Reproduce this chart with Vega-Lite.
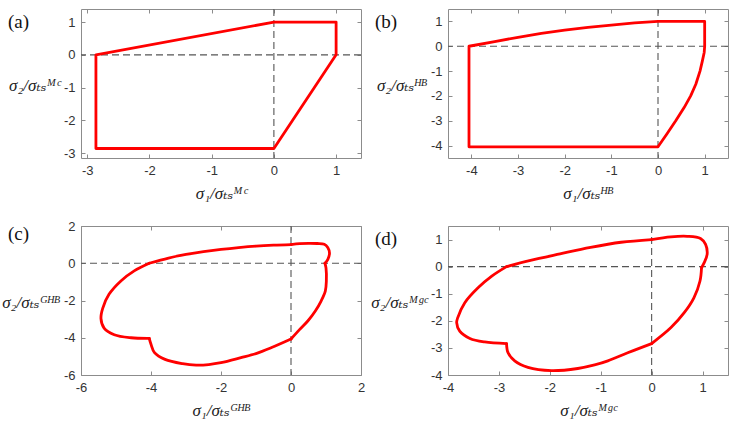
{
  "$schema": "https://vega.github.io/schema/vega-lite/v6.json",
  "background": "white",
  "padding": {"left": 1, "top": 8, "right": 6, "bottom": 4},
  "datasets": {
    "a": [
      {"s1": 0, "s2": 1}, {"s1": 1, "s2": 1}, {"s1": 1, "s2": 0}, {"s1": 0, "s2": -2.86},
      {"s1": -2.86, "s2": -2.86}, {"s1": -2.86, "s2": 0}, {"s1": 0, "s2": 1}
    ],
    "b": [
      {"s1": 0, "s2": 1}, {"s1": 1, "s2": 1}, {"s1": 1, "s2": 0.1}, {"s1": 1, "s2": 0},
      {"s1": 0.99, "s2": -0.25}, {"s1": 0.95, "s2": -0.6}, {"s1": 0.9, "s2": -1},
      {"s1": 0.81, "s2": -1.53}, {"s1": 0.7, "s2": -2}, {"s1": 0.56, "s2": -2.47},
      {"s1": 0.38, "s2": -3}, {"s1": 0.19, "s2": -3.53}, {"s1": 0, "s2": -4.05},
      {"s1": -4.05, "s2": -4.05}, {"s1": -4.05, "s2": 0}, {"s1": -3.5, "s2": 0.19},
      {"s1": -3, "s2": 0.36}, {"s1": -2.5, "s2": 0.52}, {"s1": -2, "s2": 0.65},
      {"s1": -1.5, "s2": 0.76}, {"s1": -1, "s2": 0.85}, {"s1": -0.5, "s2": 0.94}, {"s1": 0, "s2": 1}
    ],
    "c": [
      {"seg": "A", "s1": 0, "s2": 1.0}, {"seg": "A", "s1": 0.25, "s2": 1.05}, {"seg": "A", "s1": 0.5, "s2": 1.07},
      {"seg": "A", "s1": 0.75, "s2": 1.06}, {"seg": "A", "s1": 0.95, "s2": 1.02}, {"seg": "A", "s1": 1.05, "s2": 0.85},
      {"seg": "A", "s1": 1.1, "s2": 0.55}, {"seg": "A", "s1": 1.05, "s2": 0.2}, {"seg": "A", "s1": 0.97, "s2": 0.0},
      {"seg": "B", "s1": 0.97, "s2": 0.0}, {"seg": "B", "s1": 1.0, "s2": -0.25}, {"seg": "B", "s1": 1.01, "s2": -0.95},
      {"seg": "B", "s1": 0.98, "s2": -1.5}, {"seg": "B", "s1": 0.86, "s2": -2.03}, {"seg": "B", "s1": 0.7, "s2": -2.55},
      {"seg": "B", "s1": 0.48, "s2": -3.1}, {"seg": "B", "s1": 0.25, "s2": -3.55}, {"seg": "B", "s1": 0.0, "s2": -4.07},
      {"seg": "C", "s1": 0.0, "s2": -4.07}, {"seg": "C", "s1": -0.57, "s2": -4.54}, {"seg": "C", "s1": -1.0, "s2": -4.85},
      {"seg": "C", "s1": -1.43, "s2": -5.07}, {"seg": "C", "s1": -2.0, "s2": -5.34}, {"seg": "C", "s1": -2.35, "s2": -5.44},
      {"seg": "C", "s1": -2.71, "s2": -5.47}, {"seg": "C", "s1": -3.1, "s2": -5.39}, {"seg": "C", "s1": -3.6, "s2": -5.16},
      {"seg": "C", "s1": -3.9, "s2": -4.8}, {"seg": "C", "s1": -4.0, "s2": -4.35}, {"seg": "C", "s1": -4.05, "s2": -4.03},
      {"seg": "D", "s1": -4.05, "s2": -4.03}, {"seg": "D", "s1": -4.57, "s2": -4.0}, {"seg": "D", "s1": -5.05, "s2": -3.84},
      {"seg": "D", "s1": -5.34, "s2": -3.48}, {"seg": "D", "s1": -5.43, "s2": -2.96}, {"seg": "D", "s1": -5.38, "s2": -2.42},
      {"seg": "D", "s1": -5.2, "s2": -1.67}, {"seg": "D", "s1": -4.86, "s2": -0.95}, {"seg": "D", "s1": -4.48, "s2": -0.41},
      {"seg": "D", "s1": -4.05, "s2": 0},
      {"seg": "E", "s1": -4.05, "s2": 0}, {"seg": "E", "s1": -3.5, "s2": 0.28}, {"seg": "E", "s1": -3.0, "s2": 0.47},
      {"seg": "E", "s1": -2.5, "s2": 0.62}, {"seg": "E", "s1": -2.0, "s2": 0.74}, {"seg": "E", "s1": -1.5, "s2": 0.84},
      {"seg": "E", "s1": -1.0, "s2": 0.92}, {"seg": "E", "s1": -0.5, "s2": 0.97}, {"seg": "E", "s1": 0, "s2": 1.0}
    ],
    "d": [
      {"seg": "A", "s1": 0, "s2": 1.0}, {"seg": "A", "s1": 0.38, "s2": 1.1}, {"seg": "A", "s1": 0.7, "s2": 1.12},
      {"seg": "A", "s1": 0.96, "s2": 1.04}, {"seg": "A", "s1": 1.06, "s2": 0.82}, {"seg": "A", "s1": 1.09, "s2": 0.45},
      {"seg": "A", "s1": 1.03, "s2": 0.14}, {"seg": "A", "s1": 0.98, "s2": -0.04},
      {"seg": "B", "s1": 0.98, "s2": -0.04}, {"seg": "B", "s1": 0.95, "s2": -0.53}, {"seg": "B", "s1": 0.83, "s2": -1.15},
      {"seg": "B", "s1": 0.64, "s2": -1.7}, {"seg": "B", "s1": 0.38, "s2": -2.25}, {"seg": "B", "s1": 0, "s2": -2.84},
      {"seg": "C", "s1": 0, "s2": -2.84}, {"seg": "C", "s1": -0.47, "s2": -3.18}, {"seg": "C", "s1": -0.86, "s2": -3.48},
      {"seg": "C", "s1": -1.12, "s2": -3.63}, {"seg": "C", "s1": -1.45, "s2": -3.76}, {"seg": "C", "s1": -1.97, "s2": -3.84},
      {"seg": "C", "s1": -2.43, "s2": -3.72}, {"seg": "C", "s1": -2.69, "s2": -3.48}, {"seg": "C", "s1": -2.82, "s2": -3.18},
      {"seg": "C", "s1": -2.85, "s2": -2.84},
      {"seg": "D", "s1": -2.85, "s2": -2.84}, {"seg": "D", "s1": -3.28, "s2": -2.78}, {"seg": "D", "s1": -3.57, "s2": -2.65},
      {"seg": "D", "s1": -3.77, "s2": -2.38}, {"seg": "D", "s1": -3.83, "s2": -2.07}, {"seg": "D", "s1": -3.81, "s2": -1.89},
      {"seg": "D", "s1": -3.67, "s2": -1.33}, {"seg": "D", "s1": -3.41, "s2": -0.78}, {"seg": "D", "s1": -3.14, "s2": -0.35},
      {"seg": "D", "s1": -2.85, "s2": 0},
      {"seg": "E", "s1": -2.85, "s2": 0}, {"seg": "E", "s1": -2.4, "s2": 0.22}, {"seg": "E", "s1": -1.8, "s2": 0.47},
      {"seg": "E", "s1": -1.2, "s2": 0.71}, {"seg": "E", "s1": -0.6, "s2": 0.9}, {"seg": "E", "s1": 0, "s2": 1.0}
    ]
  },
  "concat": [
    {
      "width": 280, "height": 149,
      "title": {"text": "(a)"},
      "layer": [
        {"data": {"values": [{}]}, "mark": {"type": "rule", "color": "#555555", "strokeWidth": 1.1, "strokeDash": [7, 4]},
         "encoding": {"x": {"datum": 0, "type": "quantitative", "scale": {"domain": [-3.1, 1.4], "nice": false, "zero": false},
           "axis": {"orient": "top", "labels": false, "title": null, "values": [-3, -2, -1, 0, 1]}}}},
        {"data": {"values": [{}]}, "mark": {"type": "rule", "color": "#555555", "strokeWidth": 1.1, "strokeDash": [7, 4]},
         "encoding": {"y": {"datum": 0, "type": "quantitative", "scale": {"domain": [-3.15, 1.4], "nice": false, "zero": false},
           "axis": {"orient": "right", "labels": false, "title": null, "values": [-3, -2, -1, 0, 1]}}}},
        {"data": {"name": "a"}, "mark": {"type": "line", "color": "#ff0000", "strokeWidth": 2.8, "strokeJoin": "round", "strokeCap": "round"},
         "encoding": {
           "x": {"field": "s1", "type": "quantitative", "scale": {"domain": [-3.1, 1.4], "nice": false, "zero": false},
             "axis": {"orient": "bottom", "values": [-3, -2, -1, 0, 1], "title": "σ₁/σₜₛᴹᶜ"}},
           "y": {"field": "s2", "type": "quantitative", "scale": {"domain": [-3.15, 1.4], "nice": false, "zero": false},
             "axis": {"orient": "left", "values": [-3, -2, -1, 0, 1], "title": "σ₂/σₜₛᴹᶜ"}},
           "order": {"value": null}}}
      ],
      "resolve": {"axis": {"x": "independent", "y": "independent"}}
    },
    {
      "width": 280, "height": 149,
      "title": {"text": "(b)"},
      "layer": [
        {"data": {"values": [{}]}, "mark": {"type": "rule", "color": "#555555", "strokeWidth": 1.1, "strokeDash": [7, 4]},
         "encoding": {"x": {"datum": 0, "type": "quantitative", "scale": {"domain": [-4.5, 1.5], "nice": false, "zero": false},
           "axis": {"orient": "top", "labels": false, "title": null, "values": [-4, -3, -2, -1, 0, 1]}}}},
        {"data": {"values": [{}]}, "mark": {"type": "rule", "color": "#555555", "strokeWidth": 1.1, "strokeDash": [7, 4]},
         "encoding": {"y": {"datum": 0, "type": "quantitative", "scale": {"domain": [-4.5, 1.5], "nice": false, "zero": false},
           "axis": {"orient": "right", "labels": false, "title": null, "values": [-4, -3, -2, -1, 0, 1]}}}},
        {"data": {"name": "b"}, "mark": {"type": "line", "color": "#ff0000", "strokeWidth": 2.8, "strokeJoin": "round", "strokeCap": "round"},
         "encoding": {
           "x": {"field": "s1", "type": "quantitative", "scale": {"domain": [-4.5, 1.5], "nice": false, "zero": false},
             "axis": {"orient": "bottom", "values": [-4, -3, -2, -1, 0, 1], "title": "σ₁/σₜₛᴴᴮ"}},
           "y": {"field": "s2", "type": "quantitative", "scale": {"domain": [-4.5, 1.5], "nice": false, "zero": false},
             "axis": {"orient": "left", "values": [-4, -3, -2, -1, 0, 1], "title": "σ₂/σₜₛᴴᴮ"}},
           "order": {"value": null}}}
      ],
      "resolve": {"axis": {"x": "independent", "y": "independent"}}
    },
    {
      "width": 280, "height": 149,
      "title": {"text": "(c)"},
      "layer": [
        {"data": {"values": [{}]}, "mark": {"type": "rule", "color": "#555555", "strokeWidth": 1.1, "strokeDash": [7, 4]},
         "encoding": {"x": {"datum": 0, "type": "quantitative", "scale": {"domain": [-6, 2], "nice": false, "zero": false},
           "axis": {"orient": "top", "labels": false, "title": null, "values": [-6, -4, -2, 0, 2]}}}},
        {"data": {"values": [{}]}, "mark": {"type": "rule", "color": "#555555", "strokeWidth": 1.1, "strokeDash": [7, 4]},
         "encoding": {"y": {"datum": 0, "type": "quantitative", "scale": {"domain": [-6, 2], "nice": false, "zero": false},
           "axis": {"orient": "right", "labels": false, "title": null, "values": [-6, -4, -2, 0, 2]}}}},
        {"data": {"name": "c"}, "mark": {"type": "line", "color": "#ff0000", "strokeWidth": 2.8, "strokeJoin": "round", "strokeCap": "round", "interpolate": "catmull-rom"},
         "encoding": {
           "x": {"field": "s1", "type": "quantitative", "scale": {"domain": [-6, 2], "nice": false, "zero": false},
             "axis": {"orient": "bottom", "values": [-6, -4, -2, 0, 2], "title": "σ₁/σₜₛᴳᴴᴮ"}},
           "y": {"field": "s2", "type": "quantitative", "scale": {"domain": [-6, 2], "nice": false, "zero": false},
             "axis": {"orient": "left", "values": [-6, -4, -2, 0, 2], "title": "σ₂/σₜₛᴳᴴᴮ"}},
           "detail": {"field": "seg", "type": "nominal"},
           "order": {"value": null}}}
      ],
      "resolve": {"axis": {"x": "independent", "y": "independent"}}
    },
    {
      "width": 280, "height": 149,
      "title": {"text": "(d)"},
      "layer": [
        {"data": {"values": [{}]}, "mark": {"type": "rule", "color": "#555555", "strokeWidth": 1.1, "strokeDash": [7, 4]},
         "encoding": {"x": {"datum": 0, "type": "quantitative", "scale": {"domain": [-4, 1.5], "nice": false, "zero": false},
           "axis": {"orient": "top", "labels": false, "title": null, "values": [-4, -3, -2, -1, 0, 1]}}}},
        {"data": {"values": [{}]}, "mark": {"type": "rule", "color": "#555555", "strokeWidth": 1.1, "strokeDash": [7, 4]},
         "encoding": {"y": {"datum": 0, "type": "quantitative", "scale": {"domain": [-4, 1.5], "nice": false, "zero": false},
           "axis": {"orient": "right", "labels": false, "title": null, "values": [-4, -3, -2, -1, 0, 1]}}}},
        {"data": {"name": "d"}, "mark": {"type": "line", "color": "#ff0000", "strokeWidth": 2.8, "strokeJoin": "round", "strokeCap": "round", "interpolate": "catmull-rom"},
         "encoding": {
           "x": {"field": "s1", "type": "quantitative", "scale": {"domain": [-4, 1.5], "nice": false, "zero": false},
             "axis": {"orient": "bottom", "values": [-4, -3, -2, -1, 0, 1], "title": "σ₁/σₜₛᴹᵍᶜ"}},
           "y": {"field": "s2", "type": "quantitative", "scale": {"domain": [-4, 1.5], "nice": false, "zero": false},
             "axis": {"orient": "left", "values": [-4, -3, -2, -1, 0, 1], "title": "σ₂/σₜₛᴹᵍᶜ"}},
           "detail": {"field": "seg", "type": "nominal"},
           "order": {"value": null}}}
      ],
      "resolve": {"axis": {"x": "independent", "y": "independent"}}
    }
  ],
  "columns": 2,
  "spacing": {"row": 68, "column": 87},
  "bounds": "flush",
  "config": {
    "view": {"stroke": null},
    "font": "Liberation Sans",
    "title": {
      "font": "Liberation Serif", "fontSize": 19, "fontWeight": "normal", "color": "#111111",
      "anchor": "start", "frame": "group", "orient": "top", "align": "left",
      "baseline": "alphabetic", "offset": 0, "dx": -73, "dy": 28
    },
    "axis": {
      "grid": false,
      "domainColor": "#8c8c8c", "domainWidth": 1,
      "tickColor": "#8c8c8c", "tickSize": -4, "tickWidth": 1,
      "labelFont": "Liberation Sans", "labelFontSize": 13, "labelColor": "#333333",
      "labelPadding": 10, "labelFlush": false, "labelOverlap": false, "labelBound": false,
      "labelExpr": "datum.value < 0 ? '-' + (-datum.value) : '' + datum.value",
      "titleFont": "Liberation Serif, DejaVu Serif", "titleFontSize": 17, "titleFontWeight": "normal",
      "titleFontStyle": "italic", "titleColor": "#222222"
    },
    "axisBottom": {"titleY": 35, "titleBaseline": "middle"},
    "axisLeft": {"titleAngle": 0, "titleAlign": "right", "titleBaseline": "middle", "titleX": -21, "titleY": 76}
  }
}
